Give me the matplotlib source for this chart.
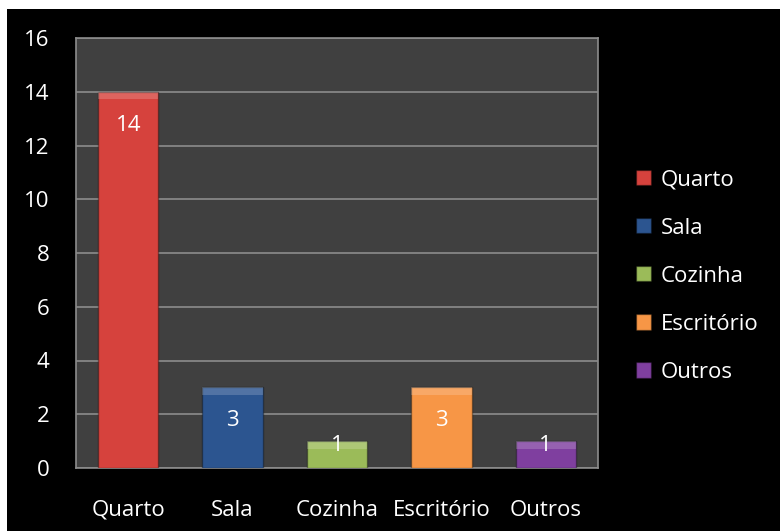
import matplotlib.pyplot as plt
from matplotlib.patches import Rectangle

categorias = ['Quarto', 'Sala', 'Cozinha', 'Escritório', 'Outros']
valores = [14, 3, 1, 3, 1]
cores = ['#d6423d', '#2c5590', '#9bbb59', '#f79646', '#7f3f9f']
y_ticks = [0, 2, 4, 6, 8, 10, 12, 14, 16]

plt.rcParams['font.family'] = ['Open Sans', 'DejaVu Sans']

fig = plt.figure(figsize=(7.8, 5.31), dpi=100, facecolor='white')
# black chart area, thin white margin on top/left
fig.add_artist(Rectangle((7 / 780, 0), 1, (531 - 9) / 531, transform=fig.transFigure,
                         facecolor='black', edgecolor='none', zorder=-10))

ax = fig.add_axes([76 / 780, (531 - 468) / 531, (598 - 76) / 780, (468 - 38) / 531])
ax.set_facecolor('#404040')

x = list(range(len(categorias)))
bars = ax.bar(x, valores, width=0.58, color=cores, edgecolor='#00000055',
              linewidth=1.0, zorder=3)
# lighter strip on top of each bar, a rough bevel
topo = 0.28
ax.bar(x, [topo] * len(valores), bottom=[v - topo for v in valores], width=0.58,
       color='white', alpha=0.18, linewidth=0, zorder=4)

for xi, v in zip(x, valores):
    ypos = v - 1.25 if v - 1.25 > v / 2 else v * 0.82
    ax.text(xi, ypos, str(v), ha='center', va='center', color='white',
            fontsize=16, zorder=5)

ax.set_ylim(0, 16)
ax.set_xlim(-0.5, len(categorias) - 0.5)
ax.set_yticks(y_ticks)
ax.set_xticks(x)
ax.set_xticklabels(categorias)
ax.yaxis.grid(True, color='#8c8c8c', linewidth=1.2, zorder=1)
ax.set_axisbelow(True)
ax.tick_params(axis='both', length=0, colors='white', labelsize=16)
ax.tick_params(axis='y', pad=19)
ax.tick_params(axis='x', pad=23)
for s in ax.spines.values():
    s.set_color('#8c8c8c')
    s.set_linewidth(1.2)

ax.legend(bars, categorias, loc='center left', bbox_to_anchor=(636 / 780, 0.48),
          bbox_transform=fig.transFigure, borderpad=0, borderaxespad=0,
          frameon=False, fontsize=16, labelcolor='white', handlelength=0.68,
          handleheight=0.68, labelspacing=1.22, handletextpad=0.45)

fig.savefig('out.png', dpi=100, facecolor=fig.get_facecolor())
